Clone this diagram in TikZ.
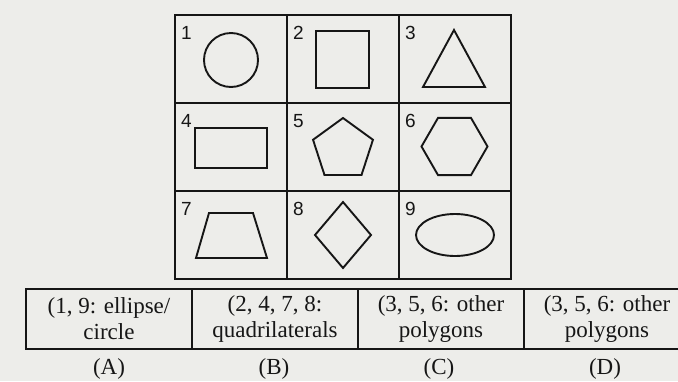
\documentclass[tikz,border=0pt]{standalone}
\usepackage{fontspec}
\setmainfont{Liberation Serif}
\newfontfamily\numfont{Liberation Sans}
\usetikzlibrary{shapes.geometric, positioning}
\definecolor{paper}{RGB}{237,237,234}
\definecolor{ink}{RGB}{22,22,22}
\tikzstyle{cell} = [rectangle, draw=ink, line width=2pt, minimum width=112pt, minimum height=88pt, outer sep=0pt, inner sep=0pt]
\tikzstyle{num} = [anchor=north west, inner sep=0pt, text=ink, font=\numfont\fontsize{19}{19}\selectfont]
\tikzstyle{shp} = [draw=ink, line width=1.9pt, inner sep=0pt, outer sep=0pt]
\tikzstyle{opt} = [rectangle, draw=ink, line width=2pt, minimum width=166pt, minimum height=60pt, outer sep=0pt, align=center, text=ink, font=\fontsize{23}{26}\selectfont]
\tikzstyle{tag} = [anchor=base, inner sep=0pt, text=ink, font=\fontsize{23}{26}\selectfont]

\begin{document}
\begin{tikzpicture}[x=1pt, y=-1pt]
  \clip (0,0) rectangle (678,381);
  \fill[paper] (0,0) rectangle (678,381);

  % grid of nine shapes
  \node[cell] (c1) at (231,59) {};
  \node[cell, right=0pt of c1] (c2) {};
  \node[cell, right=0pt of c2] (c3) {};
  \node[cell, below=0pt of c1] (c4) {};
  \node[cell, right=0pt of c4] (c5) {};
  \node[cell, right=0pt of c5] (c6) {};
  \node[cell, below=0pt of c4] (c7) {};
  \node[cell, right=0pt of c7] (c8) {};
  \node[cell, right=0pt of c8] (c9) {};

  \node[num] (n1) at ([shift={(6pt,-11pt)}]c1.north west) {1};
  \node[num] (n2) at ([shift={(6pt,-11pt)}]c2.north west) {2};
  \node[num] (n3) at ([shift={(6pt,-11pt)}]c3.north west) {3};
  \node[num] (n4) at ([shift={(6pt,-11pt)}]c4.north west) {4};
  \node[num] (n5) at ([shift={(6pt,-11pt)}]c5.north west) {5};
  \node[num] (n6) at ([shift={(6pt,-11pt)}]c6.north west) {6};
  \node[num] (n7) at ([shift={(6pt,-11pt)}]c7.north west) {7};
  \node[num] (n8) at ([shift={(6pt,-11pt)}]c8.north west) {8};
  \node[num] (n9) at ([shift={(6pt,-11pt)}]c9.north west) {9};

  \node[shp, circle, minimum size=54pt] (s1) at (231,60) {};
  \node[shp, rectangle, minimum width=53pt, minimum height=57pt] (s2) at (342.5,59.5) {};
  \draw[shp] (454,30) -- (485,87) -- (423,87) -- cycle;
  \node[shp, rectangle, minimum width=72pt, minimum height=40pt] (s4) at (231,148) {};
  \node[shp, regular polygon, regular polygon sides=5, minimum size=63pt] (s5) at (343,149.5) {};
  \node[shp, regular polygon, regular polygon sides=6, minimum size=66pt] (s6) at (454.5,146.5) {};
  \draw[shp] (196,258) -- (209,213) -- (253,213) -- (267,258) -- cycle;
  \node[shp, diamond, minimum width=56pt, minimum height=66pt] (s8) at (343,235) {};
  \node[shp, ellipse, minimum width=78pt, minimum height=42pt] (s9) at (455,235) {};

  % answer row
  \node[opt] (a) at (109,319) {(1, 9: ellipse/\\circle};
  \node[opt, right=0pt of a] (b) {(2, 4, 7, 8:\\quadrilaterals};
  \node[opt, right=0pt of b] (c) {(3, 5, 6: other\\polygons};
  \node[opt, right=0pt of c] (d) {(3, 5, 6: other\\polygons};

  \node[tag] (ta) at (109,374) {(A)};
  \node[tag] (tb) at (274,374) {(B)};
  \node[tag] (tc) at (439,374) {(C)};
  \node[tag] (td) at (605,374) {(D)};
\end{tikzpicture}
\end{document}
